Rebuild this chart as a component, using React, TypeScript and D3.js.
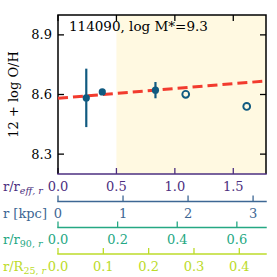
import React from "react";
import * as d3 from "d3";

// radial profile, x in units of r/r_eff,r
const filledR = [0.242, 0.379, 0.834];
const filledOH = [8.583, 8.613, 8.622];
const filledErr = [0.147, 0.0, 0.041];
const openR = [1.093, 1.615];
const openOH = [8.601, 8.54];
const fitR = [0, 1.78];
const fitOH = [8.581, 8.668];
const yTicks = [8.3, 8.6, 8.9];
const reffTicks = [0, 0.5, 1.0, 1.5];
const kpcTicks = [0, 1, 2, 3];
const r90Ticks = [0, 0.2, 0.4, 0.6];
const r25Ticks = [0, 0.1, 0.2, 0.3, 0.4];
const shadeFrom = 0.5;
const title = "114090, log M*=9.3";

const W = 277;
const H = 277;
const m = { left: 58, right: 266, top: 15, bottom: 174 };
const font = "DejaVu Serif";
const ptColor = "#105a80";

const cPurple = "#4d2f80";
const cBlue = "#3d6794";
const cGreen = "#25a883";
const cYellow = "#bcdb2a";

const reffMax = 1.78;
// conversion factors from r/r_eff,r
const kpcPerReff = 1.797;
const r90PerReff = 0.392;
const r25PerReff = 0.2578;

export default function App() {
  const x = d3.scaleLinear().domain([0, reffMax]).range([m.left, m.right]);
  const y = d3.scaleLinear().domain([8.2, 9.0]).range([m.bottom, m.top]);

  const kpc = d3.scaleLinear().domain([0, reffMax * kpcPerReff]).range([m.left, m.right]);
  const r90 = d3.scaleLinear().domain([0, reffMax * r90PerReff]).range([m.left, m.right]);
  const r25 = d3.scaleLinear().domain([0, reffMax * r25PerReff]).range([m.left, m.right]);

  const fitLine = d3
    .line<number>()
    .x((d) => x(d))
    .y((d, i) => y(fitOH[i]))(fitR);

  const extraAxes = [
    { scale: kpc, ticks: kpcTicks, fmt: d3.format("d"), color: cBlue, yLine: 201.5, name: "kpc" },
    { scale: r90, ticks: r90Ticks, fmt: d3.format(".1f"), color: cGreen, yLine: 227.5, name: "r90" },
    { scale: r25, ticks: r25Ticks, fmt: d3.format(".1f"), color: cYellow, yLine: 254, name: "r25" },
  ];

  const axisName = (name: string, color: string, yb: number) => {
    const sub = { fontSize: 9.5 };
    if (name === "reff")
      return (
        <text x={3} y={yb} fill={color} fontSize={13}>
          r/r
          <tspan dy={3} style={{ ...sub, fontStyle: "italic" }}>eff, r</tspan>
        </text>
      );
    if (name === "kpc")
      return (
        <text x={3} y={yb} fill={color} fontSize={13}>
          r [kpc]
        </text>
      );
    if (name === "r90")
      return (
        <text x={3} y={yb} fill={color} fontSize={13}>
          r/r
          <tspan dy={3} style={sub}>90, </tspan>
          <tspan style={{ ...sub, fontStyle: "italic" }}>r</tspan>
        </text>
      );
    return (
      <text x={3} y={yb} fill={color} fontSize={13}>
        r/R
        <tspan dy={3} style={sub}>25, </tspan>
        <tspan style={{ ...sub, fontStyle: "italic" }}>r</tspan>
      </text>
    );
  };

  return (
    <svg
      width={W}
      height={H}
      style={{ position: "fixed", left: 0, top: 0, background: "#fff" }}
      fontFamily={font}
    >
      {/* shaded region */}
      <rect
        x={x(shadeFrom)}
        y={m.top}
        width={m.right - x(shadeFrom)}
        height={m.bottom - m.top}
        fill="#fff9e1"
      />

      {/* y ticks, left and right, inward */}
      {yTicks.map((t) => (
        <g key={t}>
          <line x1={m.left} x2={m.left + 6} y1={y(t)} y2={y(t)} stroke="#000" strokeWidth={1.3} />
          <line x1={m.right} x2={m.right - 6} y1={y(t)} y2={y(t)} stroke="#000" strokeWidth={1.3} />
          <text x={m.left - 6} y={y(t)} dy="0.35em" textAnchor="end" fontSize={13}>
            {t.toFixed(1)}
          </text>
        </g>
      ))}

      {/* x ticks, top and bottom, inward */}
      {reffTicks.map((t) => (
        <g key={t}>
          <line x1={x(t)} x2={x(t)} y1={m.top} y2={m.top + 6} stroke="#000" strokeWidth={1.3} />
          <line x1={x(t)} x2={x(t)} y1={m.bottom} y2={m.bottom - 6} stroke={cPurple} strokeWidth={1.3} />
          <text x={x(t)} y={190.5} textAnchor="middle" fontSize={13} fill={cPurple}>
            {t.toFixed(1)}
          </text>
        </g>
      ))}

      {/* frame */}
      <path
        d={`M${m.left},${m.bottom}V${m.top}H${m.right}V${m.bottom}`}
        fill="none"
        stroke="#000"
        strokeWidth={1.5}
      />
      <line x1={m.left - 0.75} x2={m.right + 0.75} y1={m.bottom} y2={m.bottom} stroke={cPurple} strokeWidth={1.5} />
      {axisName("reff", cPurple, 190.5)}

      {/* fit */}
      <path d={fitLine || ""} fill="none" stroke="#f23b2e" strokeWidth={3} strokeDasharray="10,5" />

      {/* data */}
      {filledR.map((r, i) => (
        <g key={"f" + i}>
          {filledErr[i] > 0 && (
            <line
              x1={x(r)}
              x2={x(r)}
              y1={y(filledOH[i] + filledErr[i])}
              y2={y(filledOH[i] - filledErr[i])}
              stroke={ptColor}
              strokeWidth={2.2}
            />
          )}
          <circle cx={x(r)} cy={y(filledOH[i])} r={3.6} fill={ptColor} />
        </g>
      ))}
      {openR.map((r, i) => (
        <circle key={"o" + i} cx={x(r)} cy={y(openOH[i])} r={3.4} fill="none" stroke={ptColor} strokeWidth={1.9} />
      ))}

      <text x={69} y={30.5} fontSize={13.5}>
        {title}
      </text>

      <text
        transform={`translate(18,${(m.top + m.bottom) / 2}) rotate(-90)`}
        textAnchor="middle"
        fontSize={13}
      >
        12 + log O/H
      </text>

      {/* extra radius axes */}
      {extraAxes.map((a) => (
        <g key={a.name}>
          <line x1={m.left - 0.75} x2={m.right + 0.75} y1={a.yLine} y2={a.yLine} stroke={a.color} strokeWidth={1.5} />
          {a.ticks.map((t) => (
            <g key={t}>
              <line x1={a.scale(t)} x2={a.scale(t)} y1={a.yLine} y2={a.yLine - 6} stroke={a.color} strokeWidth={1.3} />
              <text x={a.scale(t)} y={a.yLine + 16.5} textAnchor="middle" fontSize={13} fill={a.color}>
                {a.fmt(t)}
              </text>
            </g>
          ))}
          {axisName(a.name, a.color, a.yLine + 16.5)}
        </g>
      ))}
    </svg>
  );
}
